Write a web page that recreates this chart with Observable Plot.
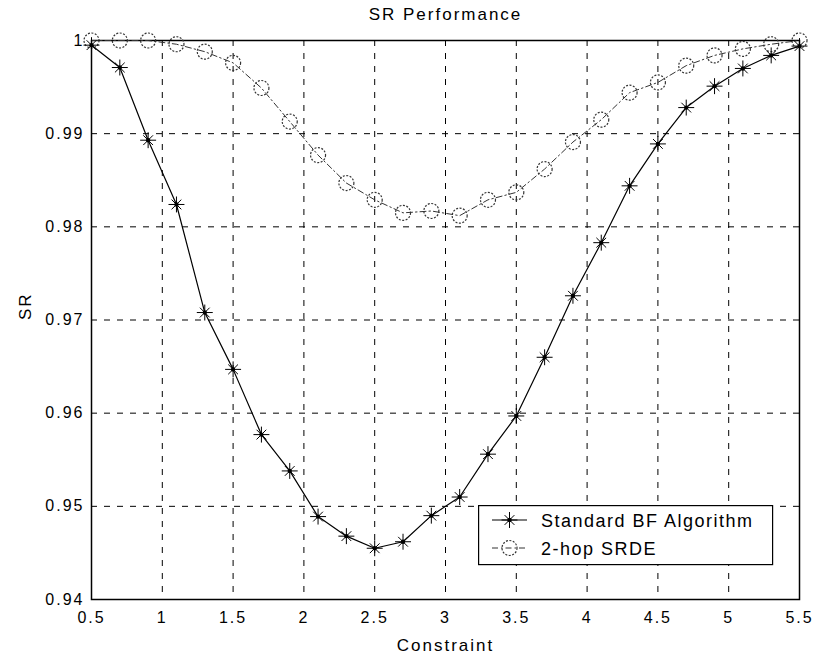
<!DOCTYPE html>
<html>
<head>
<meta charset="utf-8">
<script src="https://cdn.jsdelivr.net/npm/d3@7"></script>
<script src="https://cdn.jsdelivr.net/npm/@observablehq/plot@0.6"></script>
<style>
  body { margin: 0; background: #fff; }
  #wrap { position: relative; width: 817px; height: 659px; font-family: "Liberation Sans", Arial, sans-serif; }
  #legend { position: absolute; left: 478px; top: 505px; }
</style>
</head>
<body>
<div id="wrap"></div>
<script>
// ---- data ----
const constraint = [0.5, 0.7, 0.9, 1.1, 1.3, 1.5, 1.7, 1.9, 2.1, 2.3, 2.5, 2.7, 2.9, 3.1, 3.3, 3.5, 3.7, 3.9, 4.1, 4.3, 4.5, 4.7, 4.9, 5.1, 5.3, 5.5];
const bfSR = [0.9995, 0.9971, 0.9893, 0.9824, 0.9708, 0.9647, 0.9577, 0.9538, 0.9489, 0.9468, 0.9455, 0.9462, 0.9490, 0.9510, 0.9556, 0.9597, 0.9660, 0.9726, 0.9783, 0.9844, 0.9889, 0.9928, 0.9951, 0.9970, 0.9984, 0.9994];
const srdeSR = [1.0000, 1.0000, 1.0000, 0.9996, 0.9988, 0.9976, 0.9949, 0.9913, 0.9877, 0.9847, 0.9829, 0.9815, 0.9817, 0.9812, 0.9829, 0.9837, 0.9862, 0.9891, 0.9915, 0.9944, 0.9955, 0.9973, 0.9984, 0.9991, 0.9996, 1.0000];
const seriesNames = ["Standard BF Algorithm", "2-hop SRDE"];
const xTicks = [0.5, 1, 1.5, 2, 2.5, 3, 3.5, 4, 4.5, 5, 5.5];
const xTickLabels = ["0.5", "1", "1.5", "2", "2.5", "3", "3.5", "4", "4.5", "5", "5.5"];
const yTicks = [0.94, 0.95, 0.96, 0.97, 0.98, 0.99, 1];
const yTickLabels = ["0.94", "0.95", "0.96", "0.97", "0.98", "0.99", "1"];
const titleText = "SR Performance";
const xLabel = "Constraint";
const yLabel = "SR";

// ---- build ----
const rows = constraint.map((c, i) => ({c, bf: bfSR[i], srde: srdeSR[i]}));
const fmt = (ticks, labels) => d => labels[ticks.findIndex(t => Math.abs(t - d) < 1e-9)];
const FONT = '"Liberation Sans", Arial, sans-serif';

const plot = Plot.plot({
  width: 817, height: 659,
  marginLeft: 91, marginRight: 18, marginTop: 40, marginBottom: 60,
  style: {fontFamily: FONT, fontSize: "16px", letterSpacing: "2px", color: "#000", background: "#fff", overflow: "visible"},
  x: {domain: [0.5, 5.5], ticks: xTicks, tickFormat: fmt(xTicks, xTickLabels), tickSize: 0, tickPadding: 12, label: null},
  y: {domain: [0.94, 1], ticks: yTicks, tickFormat: fmt(yTicks, yTickLabels), tickSize: 0, tickPadding: 7, label: null},
  marks: [
    Plot.ruleX(xTicks.slice(1, -1), {stroke: "#000", strokeWidth: 1, strokeDasharray: "6,7"}),
    Plot.ruleY(yTicks.slice(1, -1), {stroke: "#000", strokeWidth: 1, strokeDasharray: "6,7"}),
    Plot.frame({stroke: "#000", strokeWidth: 1.5}),
    Plot.line(rows, {x: "c", y: "srde", stroke: "#333", strokeWidth: 1, strokeDasharray: "6,3,1.5,3"}),
    Plot.dot(rows, {x: "c", y: "srde", r: 7.5, stroke: "#333", strokeWidth: 1.2, strokeDasharray: "2,1.5", fill: "none"}),
    Plot.line(rows, {x: "c", y: "bf", stroke: "#000", strokeWidth: 1.2}),
    Plot.dot(rows, {x: "c", y: "bf", symbol: "plus", r: 5.2, stroke: "#000", strokeWidth: 1}),
    Plot.dot(rows, {x: "c", y: "bf", symbol: "times", r: 4.5, stroke: "#000", strokeWidth: 1}),
    Plot.dot(rows, {x: "c", y: "bf", r: 2.2, fill: "#000", stroke: "none"}),
    Plot.text([titleText], {frameAnchor: "top", lineAnchor: "middle", dy: -26, fontSize: 17}),
    Plot.text([xLabel], {frameAnchor: "bottom", lineAnchor: "middle", dy: 46, fontSize: 17}),
    Plot.text([yLabel], {frameAnchor: "left", lineAnchor: "middle", dx: -66, rotate: -90, fontSize: 17})
  ]
});
const wrap = document.getElementById("wrap");
wrap.appendChild(plot);

// ---- legend ----
const W = 294, H = 59;
const leg = d3.select(wrap).append("svg").attr("id", "legend").attr("width", W + 2).attr("height", H + 2);
leg.append("rect").attr("x", 0.6).attr("y", 0.6).attr("width", W).attr("height", H)
  .attr("fill", "#fff").attr("stroke", "#000").attr("stroke-width", 1.2);
const rowsY = [15, 43];
// BF entry
leg.append("line").attr("x1", 14).attr("x2", 49).attr("y1", rowsY[0]).attr("y2", rowsY[0]).attr("stroke", "#000").attr("stroke-width", 1.2);
leg.append("path").attr("transform", `translate(31.5,${rowsY[0]})`).attr("d", d3.symbol(d3.symbolPlus, Math.PI * 5.2 * 5.2)()).attr("fill", "none").attr("stroke", "#000");
leg.append("path").attr("transform", `translate(31.5,${rowsY[0]})`).attr("d", d3.symbol(d3.symbolTimes, Math.PI * 4.5 * 4.5)()).attr("fill", "none").attr("stroke", "#000");
leg.append("circle").attr("cx", 31.5).attr("cy", rowsY[0]).attr("r", 2.2).attr("fill", "#000");
// SRDE entry
leg.append("line").attr("x1", 14).attr("x2", 49).attr("y1", rowsY[1]).attr("y2", rowsY[1]).attr("stroke", "#333").attr("stroke-width", 1).attr("stroke-dasharray", "6,3,1.5,3");
leg.append("circle").attr("cx", 31.5).attr("cy", rowsY[1]).attr("r", 7.5).attr("fill", "none").attr("stroke", "#333").attr("stroke-width", 1.2).attr("stroke-dasharray", "2,1.5");
leg.selectAll("text.lbl").data(seriesNames).join("text").attr("class", "lbl")
  .attr("x", 63).attr("y", (d, i) => rowsY[i] + 6.5)
  .attr("font-family", FONT).attr("font-size", 18).attr("letter-spacing", "1.5px").attr("fill", "#000")
  .text(d => d);
</script>
</body>
</html>
